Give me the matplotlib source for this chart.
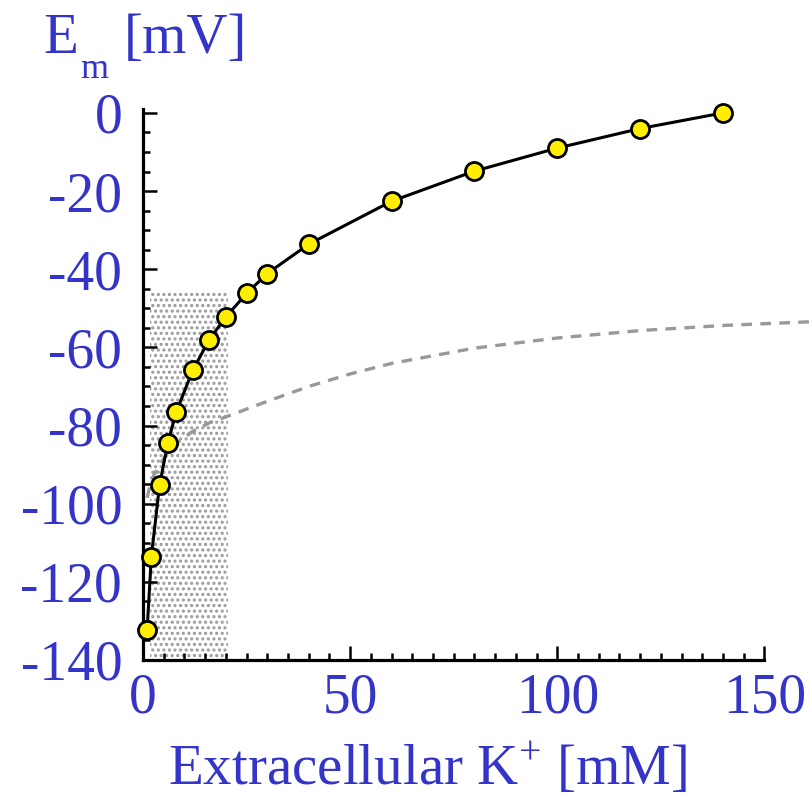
import matplotlib
matplotlib.use("Agg")
import matplotlib.pyplot as plt

plt.rcParams['font.family'] = ['Liberation Serif', 'DejaVu Serif']
plt.rcParams['mathtext.fontset'] = 'custom'
plt.rcParams['mathtext.rm'] = 'Liberation Serif'
plt.rcParams['axes.unicode_minus'] = False
plt.rcParams['hatch.color'] = '#999999'
plt.rcParams['hatch.linewidth'] = 1.5

# measured membrane potential vs extracellular K+
k_out = [1, 2, 4, 6, 8, 12, 16, 20, 25, 30, 40, 60, 80, 100, 120, 140]
em = [-132.2, -113.7, -95.2, -84.4, -76.6, -65.9, -58.0, -52.2, -46.2,
      -41.1, -33.6, -22.6, -14.9, -9.0, -4.0, 0.0]

# dashed grey curve
k_dash = [1, 2, 4, 6, 8, 12, 16, 20, 30, 40, 50, 60, 80, 100, 120, 140, 162]
e_dash = [-98.5, -94.0, -90.0, -87.0, -84.6, -81.5, -79.3, -77.8, -73.8,
          -70.0, -66.8, -64.1, -60.2, -57.6, -55.7, -54.4, -53.4]

# shaded band
shade_k = [1.6, 20.5]
shade_top = -46.2

blue = '#3434c8'

fig = plt.figure(figsize=(8.1, 7.97), dpi=100)
ax = fig.add_axes([143 / 810, 1 - 660 / 797, 1 - 143 / 810, (660 - 109) / 797])

ax.fill_between(shade_k, -140, shade_top, facecolor='white', edgecolor='#999999',
                hatch='...', linewidth=0, zorder=1)
ax.plot(k_dash, e_dash, color='#999999', lw=2.4, dashes=(3.2, 2.5), zorder=2, clip_on=False)
ax.plot(k_out, em, '-', color='black', lw=2.2, zorder=3)
ax.plot(k_out, em, 'o', ms=13, mfc='#ffee00', mec='black', mew=2.0, zorder=4, clip_on=False)

ax.set_xlim(0, 161)
ax.set_ylim(-140, 1)
for s in ['top', 'right']:
    ax.spines[s].set_visible(False)
ax.spines['bottom'].set_bounds(0, 150)
ax.spines['left'].set_linewidth(2.3)
ax.spines['bottom'].set_linewidth(2.3)

ax.set_xticks([0, 50, 100, 150])
ax.set_xticks(range(0, 151, 5), minor=True)
ax.set_yticks(range(-140, 1, 20))
ax.set_yticks(range(-140, 1, 5), minor=True)
ax.tick_params(which='both', direction='in', width=1.8, colors='black',
               labelcolor=blue, labelsize=40)
ax.tick_params(which='major', length=10)
ax.tick_params(which='minor', length=5)
ax.tick_params(axis='x', pad=9)
ax.tick_params(axis='y', pad=15)

fig.text(43 / 810, 1 - 53 / 797, 'E', color=blue, fontsize=41, va='baseline')
fig.text(80 / 810, 1 - 78 / 797, 'm', color=blue, fontsize=26, va='baseline')
fig.text(124 / 810, 1 - 53 / 797, '[mV]', color=blue, fontsize=41, va='baseline')
fig.text(428 / 810, 1 - 785 / 797, r'Extracellular K$^{+}$ [mM]', color=blue,
         fontsize=41, ha='center', va='baseline')

fig.savefig('out.png', dpi=100)
